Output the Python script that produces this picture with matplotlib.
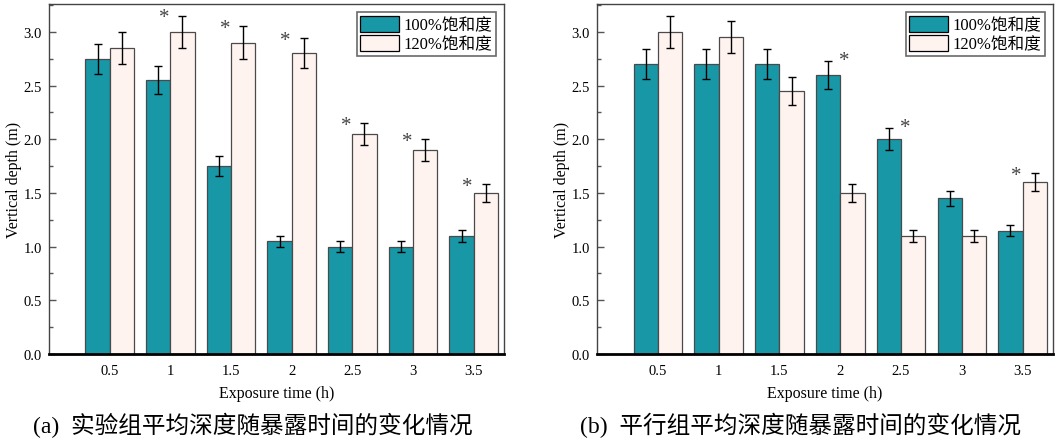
import matplotlib
matplotlib.use("Agg")
import matplotlib.pyplot as plt
import numpy as np

categories = ["0.5", "1", "1.5", "2", "2.5", "3", "3.5"]
series_names = ["100%饱和度", "120%饱和度"]

a_100 = [2.75, 2.55, 1.75, 1.05, 1.00, 1.00, 1.10]
a_100_err = [0.14, 0.13, 0.09, 0.05, 0.05, 0.05, 0.055]
a_120 = [2.85, 3.00, 2.90, 2.80, 2.05, 1.90, 1.50]
a_120_err = [0.15, 0.15, 0.15, 0.14, 0.10, 0.10, 0.08]
# significance markers: (category index, series index)
a_stars = [(1, 1), (2, 1), (3, 1), (4, 1), (5, 1), (6, 1)]

b_100 = [2.70, 2.70, 2.70, 2.60, 2.00, 1.45, 1.15]
b_100_err = [0.14, 0.14, 0.14, 0.13, 0.10, 0.07, 0.055]
b_120 = [3.00, 2.95, 2.45, 1.50, 1.10, 1.10, 1.60]
b_120_err = [0.15, 0.15, 0.13, 0.08, 0.055, 0.055, 0.085]
b_stars = [(3, 0), (4, 0), (6, 1)]

captions = ["(a)  实验组平均深度随暴露时间的变化情况", "(b)  平行组平均深度随暴露时间的变化情况"]

TEAL = "#1897A6"
PINK = "#FFF3F0"
SERIF = ["Liberation Serif", "Noto Sans CJK SC"]
plt.rcParams["font.family"] = SERIF
plt.rcParams["mathtext.fontset"] = "stix"

fig = plt.figure(figsize=(10.61, 4.39), dpi=100)
ax_a = fig.add_axes([0.0462, 0.1913, 0.4288, 0.7975])
ax_b = fig.add_axes([0.5627, 0.1913, 0.4298, 0.7975])

def draw(ax, v1, e1, v2, e2, stars, caption):
    x = np.arange(1, len(categories) + 1)
    w = 0.4
    ax.bar(x - w / 2, v1, w, color=TEAL, edgecolor="#4a4a4a", linewidth=0.9,
           label=series_names[0], zorder=2)
    ax.bar(x + w / 2, v2, w, color=PINK, edgecolor="#4a4a4a", linewidth=0.9,
           label=series_names[1], zorder=2)
    ax.errorbar(x - w / 2, v1, yerr=e1, fmt="none", ecolor="black",
                elinewidth=1.0, capsize=3, capthick=1.0, zorder=3)
    ax.errorbar(x + w / 2, v2, yerr=e2, fmt="none", ecolor="black",
                elinewidth=1.0, capsize=3, capthick=1.0, zorder=3)
    vals = [v1, v2]
    errs = [e1, e2]
    for ci, si in stars:
        top = vals[si][ci] + errs[si][ci]
        xs = x[ci] + (-0.1 if si == 1 else 0.07)
        dy = -0.02 if si == 1 else 0.005
        ax.text(xs, top + dy, "*", ha="center", va="center", fontsize=15,
                color="#444444", family=SERIF)
    ax.set_xlim(0, 7.5)
    ax.set_ylim(0, 3.26)
    ax.set_xticks(x)
    ax.set_xticklabels(categories, fontsize=10.5)
    ax.tick_params(axis="x", length=0, pad=7)
    ax.set_yticks(np.arange(0, 3.01, 0.5))
    ax.set_yticklabels([f"{t:.1f}" for t in np.arange(0, 3.01, 0.5)], fontsize=10.5)
    ax.set_yticks(np.arange(0.25, 3.26, 0.5), minor=True)
    ax.tick_params(axis="y", which="major", direction="in", length=5, width=1, color="#555555", pad=5)
    ax.tick_params(axis="y", which="minor", direction="in", length=3, width=1, color="#555555")
    ax.tick_params(axis="y", right=False)
    for s in ["top", "right", "left"]:
        ax.spines[s].set_linewidth(1.0)
        ax.spines[s].set_color("#444444")
    ax.spines["bottom"].set_linewidth(2.0)
    ax.spines["bottom"].set_color("black")
    ax.set_xlabel("Exposure time (h)", fontsize=11.5, labelpad=6)
    ax.set_ylabel("Vertical depth (m)", fontsize=11.5, labelpad=1)
    leg = ax.legend(loc="upper right", fontsize=12, frameon=True, fancybox=False,
                    edgecolor="#444444", handlelength=2.3, handleheight=1.1,
                    borderpad=0.2, labelspacing=0.1, handletextpad=0.3,
                    borderaxespad=0.5)
    leg.get_frame().set_linewidth(1.2)
    for p in leg.get_patches():
        p.set_edgecolor("black")
    ax.text(0.447, -0.165, caption, transform=ax.transAxes, ha="center", va="top",
            fontsize=17, family=SERIF)

draw(ax_a, a_100, a_100_err, a_120, a_120_err, a_stars, captions[0])
draw(ax_b, b_100, b_100_err, b_120, b_120_err, b_stars, captions[1])

fig.savefig("out.png", dpi=100)
